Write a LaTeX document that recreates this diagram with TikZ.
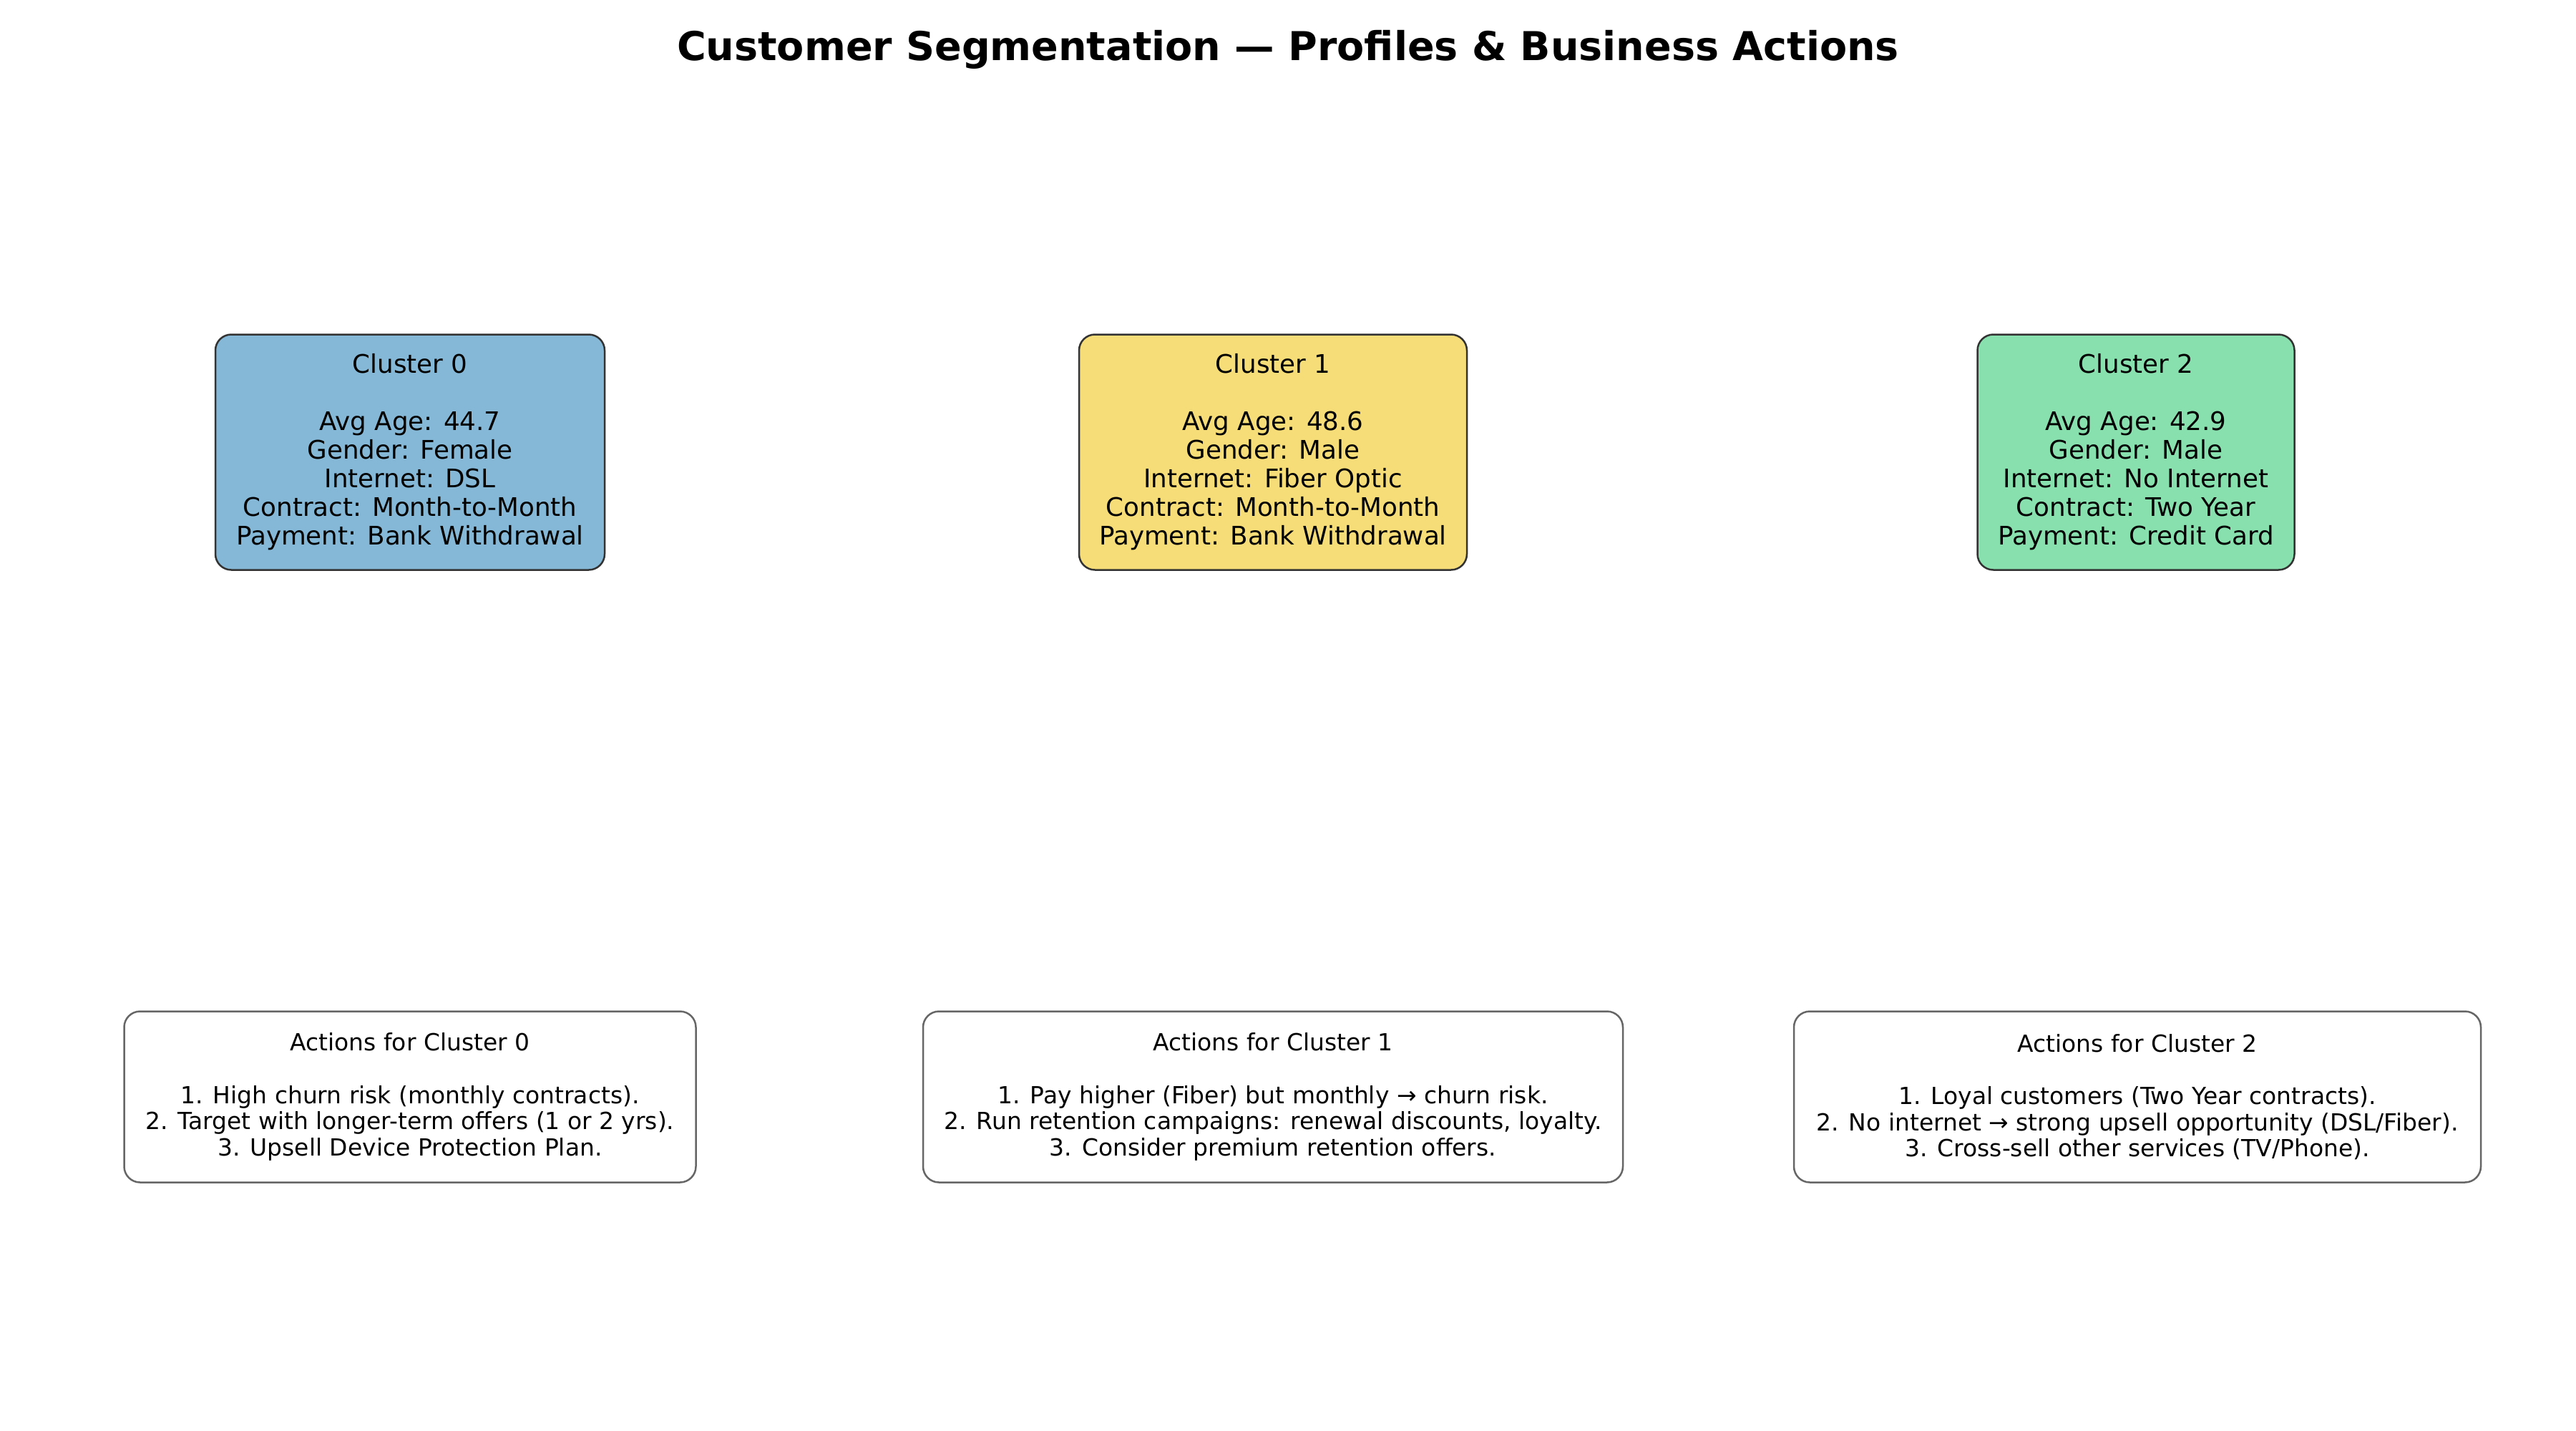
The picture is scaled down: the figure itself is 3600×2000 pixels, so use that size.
\documentclass[tikz,border=0pt]{standalone}
\usepackage{fontspec}
\setmainfont{DejaVu Sans}
\definecolor{cblue}{RGB}{133,183,214}
\definecolor{cyellow}{RGB}{246,221,120}
\definecolor{cgreen}{RGB}{137,224,175}
\definecolor{pedge}{RGB}{51,51,51}
\definecolor{aedge}{RGB}{102,102,102}
\tikzset{
  x=0.36pt, y=-0.36pt,
  profile/.style={draw=pedge, line width=0.9pt, rounded corners=8pt, align=center,
    inner sep=0pt, minimum height=329*0.36pt, font=\fontsize{12.85}{14.4}\selectfont},
  actionbox/.style={draw=aedge, fill=white, line width=0.9pt, rounded corners=8pt, align=center,
    inner sep=0pt, minimum height=239*0.36pt, font=\fontsize{11.85}{13.2}\selectfont},
  titletext/.style={font=\fontsize{20}{24}\selectfont\bfseries}
}
\begin{document}
\begin{tikzpicture}
\useasboundingbox[fill=white] (0,0) rectangle (3600,2000);
\node[titletext] (title) at (1800,69) {Customer Segmentation — Profiles \& Business Actions};

\node[profile, fill=cblue, minimum width=544*0.36pt] (c0) at (573,632)
  {Cluster 0\\[14.4pt]Avg Age: 44.7\\Gender: Female\\Internet: DSL\\Contract: Month-to-Month\\Payment: Bank Withdrawal};
\node[profile, fill=cyellow, minimum width=542*0.36pt] (c1) at (1779,632)
  {Cluster 1\\[14.4pt]Avg Age: 48.6\\Gender: Male\\Internet: Fiber Optic\\Contract: Month-to-Month\\Payment: Bank Withdrawal};
\node[profile, fill=cgreen, minimum width=443*0.36pt] (c2) at (2985,632)
  {Cluster 2\\[14.4pt]Avg Age: 42.9\\Gender: Male\\Internet: No Internet\\Contract: Two Year\\Payment: Credit Card};

\node[actionbox, minimum width=799*0.36pt] (a0) at (573,1533)
  {Actions for Cluster 0\\[13.2pt]1. High churn risk (monthly contracts).\\2. Target with longer-term offers (1 or 2 yrs).\\3. Upsell Device Protection Plan.};
\node[actionbox, minimum width=978*0.36pt] (a1) at (1779,1533)
  {Actions for Cluster 1\\[13.2pt]1. Pay higher (Fiber) but monthly → churn risk.\\2. Run retention campaigns: renewal discounts, loyalty.\\3. Consider premium retention offers.};
\node[actionbox, minimum width=960*0.36pt] (a2) at (2987,1533)
  {Actions for Cluster 2\\[13.2pt]1. Loyal customers (Two Year contracts).\\2. No internet → strong upsell opportunity (DSL/Fiber).\\3. Cross-sell other services (TV/Phone).};
\end{tikzpicture}
\end{document}
